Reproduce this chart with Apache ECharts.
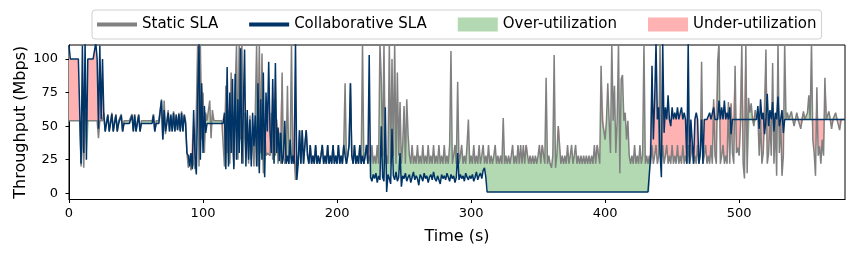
<!DOCTYPE html>
<html><head><meta charset="utf-8">
<script src="https://cdn.jsdelivr.net/npm/echarts@6/dist/echarts.min.js"></script>
<style>html,body{margin:0;padding:0;background:#fff}#c{width:854px;height:256px}</style>
</head><body><div id="c"></div>
<script>
// Throughput (Mbps), one sample per second, t = 0 .. 579 s
const staticSLA = [
54,54,54,54,54,54,54,54,54,20,
54,19,60,54,54,54,54,54,54,54,
54,54,41,54,54,54,60,46,54,59,
46,54,60,46,54,59,46,54,54,59,
46,54,54,54,54,54,54,59,46,59,
46,54,59,46,54,54,54,54,54,54,
54,54,54,59,46,54,54,54,54,70,
40,69,44,54,62,46,59,46,61,46,
59,47,60,46,61,46,59,54,30,19,
28,17,30,22,18,60,112,20,112,40,
75,30,60,54,54,69,41,62,54,54,
54,54,54,54,54,54,20,80,30,62,
22,90,35,20,75,112,25,112,40,112,
22,60,30,55,22,58,25,45,20,60,
112,20,112,30,104,15,50,28,30,29,
28,60,25,70,28,55,22,45,22,90,
28,22,28,80,22,28,112,22,28,10,
28,22,47,22,47,22,36,47,28,22,
36,22,28,22,36,22,28,22,28,36,
22,28,22,36,22,28,22,36,22,28,
22,36,22,28,22,36,82,22,28,36,
82,28,22,36,22,28,22,36,22,112,
22,28,36,22,28,22,36,22,28,22,
36,22,112,85,28,112,22,28,22,112,
22,100,28,112,22,90,28,68,22,36,
65,22,70,44,28,22,36,22,28,22,
36,22,28,22,36,22,28,22,36,22,
28,22,36,22,28,22,36,22,28,22,
36,22,28,22,36,106,22,28,36,22,
83,22,28,36,22,28,22,36,55,22,
28,22,36,22,28,22,36,22,28,36,
22,28,22,36,22,28,22,28,36,22,
28,22,28,22,56,22,28,22,28,22,
28,36,22,28,22,36,22,36,22,36,
22,36,36,22,28,22,28,22,28,22,
28,36,22,36,36,22,86,22,28,22,
19,28,103,19,28,50,50,22,28,22,
28,22,36,22,28,36,22,28,36,22,
28,22,28,22,28,22,28,22,28,22,
28,22,36,22,36,36,22,95,54,55,
40,54,82,54,30,112,54,80,30,54,
112,15,85,88,54,60,40,54,28,22,
28,22,36,22,28,22,36,22,28,112,
22,28,22,28,22,36,22,28,36,22,
28,112,22,36,22,28,36,22,28,22,
36,22,28,22,36,22,28,22,36,22,
28,22,36,22,28,36,22,28,22,36,
22,28,98,22,28,36,22,28,22,36,
22,70,28,22,98,112,22,28,36,22,
28,22,68,22,67,30,22,95,30,34,
28,50,112,22,11,112,15,71,60,67,
55,50,62,55,58,28,55,22,30,60,
107,22,30,55,28,97,22,55,13,112,
30,55,13,28,112,55,60,55,55,61,
55,50,55,60,55,55,48,55,61,55,
55,60,73,55,112,40,30,13,79,28,
35,22,40,28,86,55,55,61,55,48,
55,55,60,55,55,47,55,55,55,55
];
const collabSLA = [
110,100,100,100,100,100,100,100,100,22,
110,30,112,25,100,100,100,100,100,100,
112,100,48,110,55,100,58,46,52,58,
46,52,59,46,52,58,46,52,52,58,
46,52,52,52,52,52,52,58,46,58,
46,52,58,46,52,52,52,52,52,52,
52,52,52,58,46,52,52,52,52,69,
40,62,46,52,60,46,58,46,60,46,
58,47,59,46,60,46,58,52,30,28,
20,30,18,62,28,14,70,112,25,82,
30,65,45,52,52,52,52,52,52,52,
52,52,52,52,52,52,60,18,94,20,
75,30,85,18,89,25,70,30,108,22,
60,107,20,62,25,55,20,60,35,58,
20,82,15,70,25,90,12,75,46,98,
45,30,85,22,97,30,49,24,45,22,
28,54,22,28,22,40,22,28,22,112,
10,22,47,22,47,22,36,47,28,22,
36,22,28,22,36,22,28,22,28,36,
22,28,22,36,22,28,22,36,22,28,
22,36,22,28,22,36,28,22,28,36,
82,28,22,36,22,28,22,36,22,28,
22,28,36,22,103,12,9,14,11,15,
8,13,10,50,12,9,64,1,14,11,
7,48,13,10,16,9,12,30,5,13,
11,15,9,12,14,8,12,16,10,13,
11,6,14,12,9,15,11,13,8,12,
14,10,16,11,9,13,12,7,14,11,
13,10,15,12,9,14,11,13,8,12,
30,10,14,11,13,9,15,12,10,13,
11,14,9,12,16,10,13,15,11,17,
19,12,1,1,1,1,1,1,1,1,
1,1,1,1,1,1,1,1,1,1,
1,1,1,1,1,1,1,1,1,1,
1,1,1,1,1,1,1,1,1,1,
1,1,1,1,1,1,1,1,1,1,
1,1,1,1,1,1,1,1,1,1,
1,1,1,1,1,1,1,1,1,1,
1,1,1,1,1,1,1,1,1,1,
1,1,1,1,1,1,1,1,1,1,
1,1,1,1,1,1,1,1,1,1,
1,1,1,1,1,1,1,1,1,1,
1,1,1,1,1,1,1,1,1,1,
1,1,1,1,28,95,40,70,112,55,
64,30,12,112,45,64,55,73,55,50,
64,55,60,55,64,55,55,64,55,60,
55,22,112,22,55,55,22,55,60,55,
22,30,55,22,55,55,55,55,60,55,
55,64,55,55,55,69,55,64,55,69,
55,60,55,64,44,55,55,55,55,55,
55,55,55,55,55,55,55,55,55,55,
55,55,55,55,65,48,70,55,60,44,
55,74,50,62,55,68,46,60,55,72,
50,55,62,45,55,55,55,55,55,55,
55,55,55,55,55,55,55,55,55,55,
55,55,55,55,55,55,55,55,55,55,
55,55,55,55,55,55,55,55,55,55,
55,55,55,55,55,55,55,55,55,55
];
const yTicks = [0, 25, 50, 75, 100];
const xTickStep = 100;
const seriesNames = ['Static SLA', 'Collaborative SLA', 'Over-utilization', 'Under-utilization'];

// sampling grid (1 s)
const timeCats = staticSLA.map((_, i) => String(i));
const baseFill = staticSLA.map((s, i) => Math.min(s, collabSLA[i]));
const overFill = staticSLA.map((s, i) => Math.max(s - collabSLA[i], 0));
const underFill = staticSLA.map((s, i) => Math.max(collabSLA[i] - s, 0));

const FONT = 'DejaVu Sans';
const GRAY = '#808080', BLUE = '#003366', GREEN = '#b2d9b2', PINK = '#ffb2b2';
const chart = echarts.init(document.getElementById('c'), null, {renderer: 'canvas'});
chart.setOption({
  animation: false,
  backgroundColor: '#fff',
  grid: {left: 69, right: 9, top: 45, bottom: 56.5, show: true, borderColor: '#000', borderWidth: 1,
         containLabel: false, outerBoundsMode: 'none'},
  legend: {
    left: 92, top: 10, padding: [7, 5], itemGap: 31, itemWidth: 40, itemHeight: 14,
    borderColor: '#d0d0d0', borderWidth: 1, borderRadius: 3,
    textStyle: {fontFamily: FONT, fontSize: 15, color: '#000'},
    data: [
      {name: seriesNames[0], icon: 'path://M0,0H40V4.2H0Z', itemStyle: {color: GRAY, borderWidth: 0}},
      {name: seriesNames[1], icon: 'path://M0,0H40V4.2H0Z', itemStyle: {color: BLUE, borderWidth: 0}},
      {name: seriesNames[2], icon: 'rect', itemStyle: {color: GREEN, borderWidth: 0}},
      {name: seriesNames[3], icon: 'rect', itemStyle: {color: PINK, borderWidth: 0}}
    ]
  },
  xAxis: {
    type: 'category', data: timeCats, boundaryGap: false,
    name: 'Time (s)', nameLocation: 'middle', nameGap: 29, nameMoveOverlap: false,
    nameTextStyle: {fontFamily: FONT, fontSize: 16, color: '#000'},
    axisLine: {show: true, onZero: false, lineStyle: {color: '#000', width: 1}},
    axisTick: {show: true, length: 3.5, interval: (i) => i % xTickStep === 0, lineStyle: {color: '#000'}},
    axisLabel: {interval: (i) => i % xTickStep === 0, fontFamily: FONT, fontSize: 13, color: '#000', margin: 8},
    splitLine: {show: false}
  },
  yAxis: {
    type: 'value', min: -4.6, max: 110.4,
    name: 'Throughput (Mbps)', nameLocation: 'middle', nameGap: 40, nameMoveOverlap: false,
    nameTextStyle: {fontFamily: FONT, fontSize: 16, color: '#000'},
    axisLine: {show: true, lineStyle: {color: '#000', width: 1}},
    axisTick: {show: true, length: 3.5, customValues: yTicks, lineStyle: {color: '#000'}},
    axisLabel: {customValues: yTicks, fontFamily: FONT, fontSize: 13, color: '#000', margin: 11},
    splitLine: {show: false}
  },
  series: [
    {type: 'line', stack: 'fill', data: baseFill, symbol: 'none', silent: true,
     lineStyle: {width: 0, opacity: 0}},
    {name: seriesNames[2], type: 'line', stack: 'fill', data: overFill, symbol: 'none', silent: true,
     lineStyle: {width: 0, opacity: 0}, itemStyle: {color: GREEN}, areaStyle: {color: GREEN, opacity: 1}},
    {name: seriesNames[3], type: 'line', stack: 'fill', data: underFill, symbol: 'none', silent: true,
     lineStyle: {width: 0, opacity: 0}, itemStyle: {color: PINK}, areaStyle: {color: PINK, opacity: 1}},
    {name: seriesNames[0], type: 'line', data: staticSLA, symbol: 'none', silent: true,
     lineStyle: {color: GRAY, width: 1.5}, itemStyle: {color: GRAY}},
    {name: seriesNames[1], type: 'line', data: collabSLA, symbol: 'none', silent: true,
     lineStyle: {color: BLUE, width: 1.5}, itemStyle: {color: BLUE}}
  ]
});
</script>
</body></html>
